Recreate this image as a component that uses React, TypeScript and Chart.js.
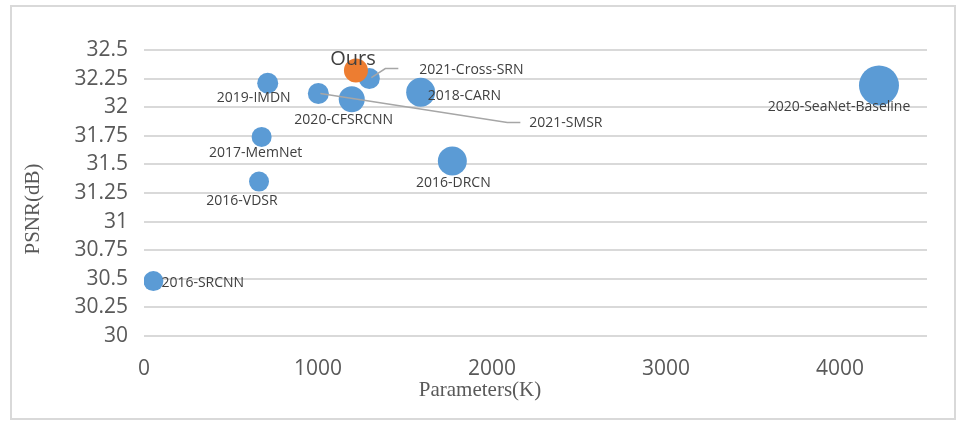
import React, { useEffect, useRef } from 'react';
import { Chart, registerables } from 'chart.js';

Chart.register(...registerables);

// ---- data ----
const models = [
  '2016-SRCNN',
  '2016-VDSR',
  '2017-MemNet',
  '2019-IMDN',
  '2021-SMSR',
  '2020-CFSRCNN',
  '2021-Cross-SRN',
  '2018-CARN',
  '2016-DRCN',
  '2020-SeaNet-Baseline',
];
const params = [54, 661, 676, 711, 1002, 1194, 1295, 1590, 1772, 4224];
const psnr = [30.48, 31.35, 31.74, 32.21, 32.12, 32.07, 32.25, 32.13, 31.53, 32.19];
const bubbleSize = [10, 10, 10, 10.5, 10.5, 13, 10.5, 14.5, 14.5, 20];

const oursName = 'Ours';
const oursParams = [1218];
const oursPsnr = [32.32];
const oursSize = [12];

const xTickValues = [0, 1000, 2000, 3000, 4000];
const yTickLabels = ['30', '30.25', '30.5', '30.75', '31', '31.25', '31.5', '31.75', '32', '32.25', '32.5'];

const xTitle = 'Parameters(K)';
const yTitle = 'PSNR(dB)';

// ---- label styling (pixel offsets from each bubble centre) ----
type Lbl = { dx: number; dy: number; align: CanvasTextAlign; leader?: [number, number][]; big?: boolean };
const labelLayout: Record<string, Lbl> = {
  '2016-SRCNN': { dx: 8, dy: 2, align: 'left' },
  '2016-VDSR': { dx: -17, dy: 19, align: 'center' },
  '2017-MemNet': { dx: -6, dy: 16, align: 'center' },
  '2019-IMDN': { dx: -14, dy: 15, align: 'center' },
  '2021-SMSR': { dx: 211, dy: 30, align: 'left', leader: [[2, 0], [189, 29], [202, 29]] },
  '2020-CFSRCNN': { dx: -8, dy: 21, align: 'center' },
  '2021-Cross-SRN': { dx: 50, dy: -9, align: 'left', leader: [[2, -1], [16, -10], [29, -10]] },
  '2018-CARN': { dx: 7, dy: 4, align: 'left' },
  '2016-DRCN': { dx: 1, dy: 22, align: 'center' },
  '2020-SeaNet-Baseline': { dx: -40, dy: 22, align: 'center' },
  Ours: { dx: -3, dy: -11, align: 'center', big: true },
};

const BLUE = '#5b9bd5';
const ORANGE = '#ed7d31';
const TEXT = '#404040';
const TICK = '#595959';

const labelPlugin = {
  id: 'bubbleLabels',
  beforeDraw(chart: any) {
    const ctx = chart.ctx;
    ctx.save();
    ctx.fillStyle = '#ffffff';
    ctx.fillRect(0, 0, chart.width, chart.height);
    ctx.strokeStyle = '#d9d9d9';
    ctx.lineWidth = 2;
    ctx.strokeRect(11, 6, 944, 413);
    ctx.restore();
  },
  afterDatasetsDraw(chart: any) {
    const ctx = chart.ctx;
    ctx.save();
    chart.data.datasets.forEach((ds: any, di: number) => {
      const meta = chart.getDatasetMeta(di);
      meta.data.forEach((el: any, i: number) => {
        const name = ds.names[i];
        const l = labelLayout[name];
        if (!l) return;
        const px = el.x;
        const py = el.y;
        if (l.leader) {
          ctx.strokeStyle = '#a6a6a6';
          ctx.lineWidth = 1.5;
          ctx.beginPath();
          l.leader.forEach(([ox, oy], k) => {
            if (k === 0) ctx.moveTo(px + ox, py + oy);
            else ctx.lineTo(px + ox, py + oy);
          });
          ctx.stroke();
        }
        ctx.fillStyle = TEXT;
        ctx.font = l.big ? '20px "Open Sans"' : '14px "Open Sans"';
        ctx.textAlign = l.align;
        ctx.textBaseline = 'middle';
        ctx.fillText(name, px + l.dx, py + l.dy);
      });
    });
    // axis titles
    ctx.fillStyle = TICK;
    ctx.font = '21px "Liberation Serif"';
    ctx.textAlign = 'center';
    ctx.textBaseline = 'middle';
    ctx.fillText(xTitle, 480, 390);
    ctx.translate(33, 209);
    ctx.rotate(-Math.PI / 2);
    ctx.fillText(yTitle, 0, 0);
    ctx.restore();
  },
};

export default function App() {
  const ref = useRef<HTMLCanvasElement | null>(null);

  useEffect(() => {
    if (!ref.current) return;
    const chart = new Chart(ref.current, {
      type: 'bubble',
      data: {
        datasets: [
          {
            label: oursName,
            names: [oursName],
            data: oursParams.map((x, i) => ({ x, y: oursPsnr[i], r: oursSize[i] })),
            backgroundColor: ORANGE,
            borderColor: ORANGE,
            borderWidth: 0,
          } as any,
          {
            label: 'Models',
            names: models,
            data: params.map((x, i) => ({ x, y: psnr[i], r: bubbleSize[i] })),
            backgroundColor: BLUE,
            borderColor: BLUE,
            borderWidth: 0,
          } as any,
        ],
      },
      options: {
        animation: false,
        responsive: true,
        maintainAspectRatio: false,
        events: [],
        layout: { padding: { top: 50, right: 41, left: 0, bottom: 0 } },
        plugins: {
          legend: { display: false },
          tooltip: { enabled: false },
        },
        scales: {
          x: {
            type: 'linear',
            min: 0,
            max: 4500,
            border: { display: false },
            grid: { display: false, drawTicks: false },
            afterFit: (s: any) => {
              s.height = 85;
            },
            afterBuildTicks: (s: any) => {
              s.ticks = xTickValues.map((value) => ({ value }));
            },
            ticks: {
              autoSkip: false,
              padding: 20,
              color: TICK,
              font: { family: '"Open Sans"', size: 21 },
              maxRotation: 0,
              callback: (v: any) => String(v),
            },
          },
          y: {
            type: 'linear',
            min: 30,
            max: 32.5,
            border: { display: false },
            grid: { color: '#d9d9d9', lineWidth: 2, drawTicks: false },
            afterFit: (s: any) => {
              s.width = 144;
            },
            ticks: {
              stepSize: 0.25,
              padding: 16,
              color: TICK,
              font: { family: '"Open Sans"', size: 21 },
              callback: (v: any, i: number) => yTickLabels[i] ?? String(v),
            },
          },
        },
      },
      plugins: [labelPlugin],
    });
    return () => chart.destroy();
  }, []);

  return (
    <div style={{ position: 'absolute', left: 0, top: 0, width: 968, height: 421 }}>
      <canvas ref={ref} />
    </div>
  );
}
